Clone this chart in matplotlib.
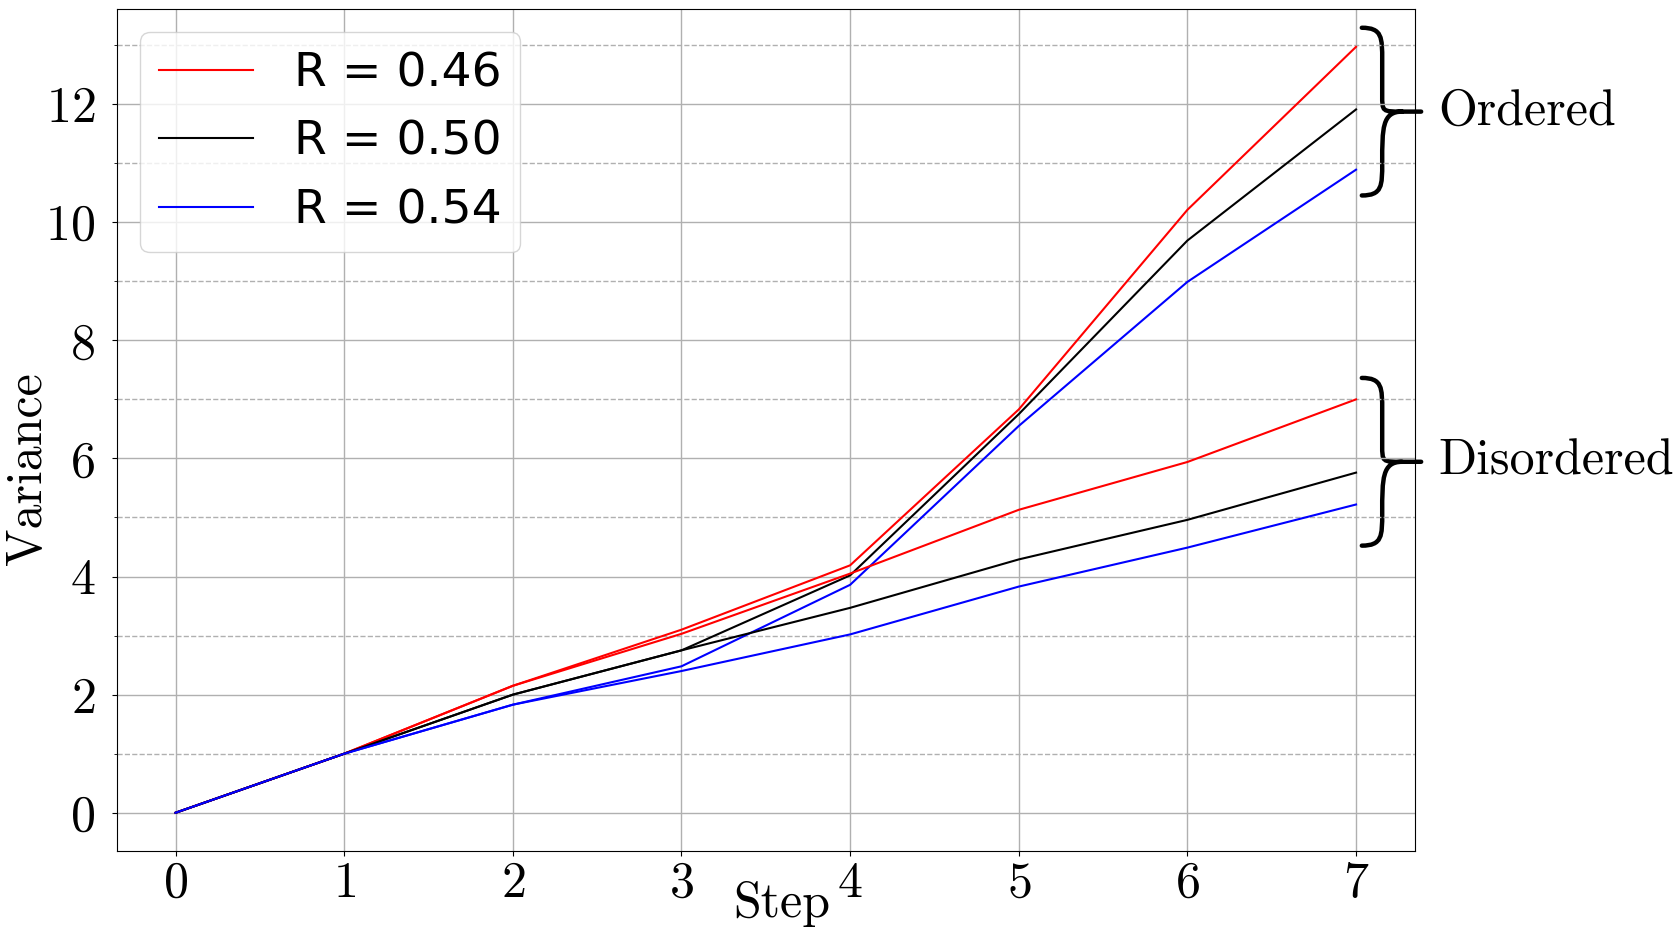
import matplotlib
matplotlib.use("Agg")
import matplotlib.pyplot as plt
import matplotlib.transforms as mtransforms
from matplotlib.path import Path
from matplotlib.patches import PathPatch

# Data
steps = [0, 1, 2, 3, 4, 5, 6, 7]
r_labels = ["R = 0.46", "R = 0.50", "R = 0.54"]
colors = ["red", "black", "blue"]

ordered_046 = [0, 1, 2.15, 3.10, 4.19, 6.83, 10.21, 12.97]
ordered_050 = [0, 1, 2.00, 2.75, 4.02, 6.75, 9.69, 11.91]
ordered_054 = [0, 1, 1.83, 2.48, 3.86, 6.55, 8.99, 10.89]

disordered_046 = [0, 1, 2.15, 3.03, 4.05, 5.13, 5.94, 7.00]
disordered_050 = [0, 1, 2.00, 2.75, 3.47, 4.29, 4.96, 5.76]
disordered_054 = [0, 1, 1.83, 2.40, 3.02, 3.83, 4.49, 5.22]

ordered = [ordered_046, ordered_050, ordered_054]
disordered = [disordered_046, disordered_050, disordered_054]

plt.rcParams["font.family"] = "cmr10"
plt.rcParams["mathtext.fontset"] = "cm"
plt.rcParams["axes.formatter.use_mathtext"] = True

fig = plt.figure(figsize=(16.77, 9.41), dpi=100)
ax = fig.add_axes([0.0695, 0.0956, 0.7743, 0.8953])

for ys, c, lab in zip(ordered, colors, r_labels):
    ax.plot(steps, ys, color=c, label=lab)
for ys, c in zip(disordered, colors):
    ax.plot(steps, ys, color=c)

# ticks and grid
ax.set_xticks(range(0, 8))
ax.set_yticks(range(0, 13, 2))
ax.set_yticks(range(1, 14, 2), minor=True)
ax.tick_params(axis="both", which="major", labelsize=36)
ax.tick_params(axis="y", which="major", pad=12)
ax.grid(True, which="major", color="#b0b0b0", linewidth=1.0)
ax.grid(True, which="minor", axis="y", color="#b0b0b0", linestyle="--", linewidth=1.0)

ax.set_xlabel("Step", fontsize=36)
ax.xaxis.set_label_coords(0.512, -0.035)
ax.set_ylabel("Variance", fontsize=36)
ax.yaxis.set_label_coords(-0.051, 0.454)

leg = ax.legend(loc="upper left", prop={"family": "DejaVu Sans", "size": 34},
                handletextpad=0.85)


# curly braces marking the two groups at the last step
def draw_brace(ax, ymid, half, label):
    trans = mtransforms.blended_transform_factory(ax.transAxes, ax.transData)
    x0, x1, x2, xm = 0.959, 0.9747, 1.0047, 0.990
    top, bot = ymid + half, ymid - half
    r1 = 0.55
    r2 = 0.28
    verts = [
        (x0, top), (x1, top), (x1, top - r1 * 0.3), (x1, top - r1),
        (x1, ymid + r2),
        (x1, ymid), (x1, ymid), (xm, ymid),
        (x2, ymid),
        (xm, ymid), (x1, ymid), (x1, ymid - r2),
        (x1, bot + r1),
        (x1, bot + r1 * 0.3), (x1, bot), (x0, bot),
    ]
    codes = [
        Path.MOVETO, Path.CURVE4, Path.CURVE4, Path.CURVE4,
        Path.LINETO,
        Path.CURVE4, Path.CURVE4, Path.CURVE4,
        Path.LINETO,
        Path.MOVETO, Path.CURVE4, Path.CURVE4,
        Path.LINETO,
        Path.CURVE4, Path.CURVE4, Path.CURVE4,
    ]
    patch = PathPatch(Path(verts, codes), transform=trans, fill=False,
                      edgecolor="black", linewidth=3.2, clip_on=False,
                      capstyle="round")
    ax.add_patch(patch)
    ax.text(1.018, ymid, label, transform=trans, fontsize=36,
            va="center", ha="left", clip_on=False)


ord_mid = sum(s[-1] for s in ordered) / 3
dis_mid = sum(s[-1] for s in disordered) / 3
draw_brace(ax, ord_mid - 0.05, 1.42, "Ordered")
draw_brace(ax, dis_mid - 0.05, 1.42, "Disordered")

fig.savefig("out.png", dpi=100)
